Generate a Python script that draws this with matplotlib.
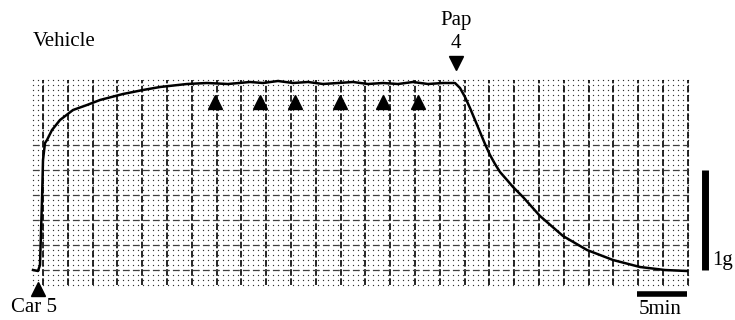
import matplotlib.pyplot as plt
import numpy as np

plt.rcParams['font.family'] = ['Liberation Serif', 'DejaVu Serif']

# trace: time (min) and tension (g)
time_min = [0.0, 0.5, 0.7, 0.9, 1.0, 1.2, 1.4, 1.9, 2.7, 4.0, 5.4, 6.7, 9.0, 11.0,
            12.7, 15.4, 17.4, 19.5, 21.7, 23.0, 24.5, 26.0, 27.5, 29.0, 30.5, 32.0,
            33.5, 35.0, 36.5, 38.0, 39.5, 41.0, 42.2, 42.7, 43.2, 43.7, 44.2, 44.7,
            45.2, 45.7, 46.2, 46.7, 47.4, 48.0, 49.0, 50.7, 53.0, 55.4, 58.0, 60.7,
            63.2, 65.4]
tension_g = [0.0, -0.01, 0.05, 0.70, 1.10, 1.27, 1.30, 1.40, 1.50, 1.60, 1.65, 1.70,
             1.76, 1.80, 1.83, 1.86, 1.87, 1.86, 1.88, 1.87, 1.89, 1.87, 1.88, 1.86,
             1.87, 1.88, 1.86, 1.87, 1.86, 1.88, 1.86, 1.87, 1.87, 1.82, 1.73, 1.62,
             1.50, 1.38, 1.26, 1.15, 1.06, 0.98, 0.90, 0.83, 0.73, 0.54, 0.34, 0.20,
             0.10, 0.03, 0.0, -0.01]

# drug additions (min)
car_time = 0.5
pap_time = 42.3
vehicle_times = [18.2, 22.7, 26.2, 30.7, 35.0, 38.5]

fig = plt.figure(figsize=(7.35, 3.2), dpi=100)
ax = fig.add_axes([0, 0, 1, 1])
ax.set_xlim(-3.3, 70.2)
ax.set_ylim(-0.5, 2.7)
ax.axis('off')

# chart paper
x0, x1 = 0.0, 65.5
y0, y1 = -0.15, 1.9
xs = np.arange(x0, x1 + 0.01, 0.5)
ys = np.arange(y0, y1 + 0.001, 0.05)
gx, gy = np.meshgrid(xs, ys)
ax.scatter(gx.ravel(), gy.ravel(), s=0.9, color='0.2', linewidths=0, zorder=1)
for xv in np.arange(1.0, x1, 2.48):
    ax.plot([xv, xv], [y0, y1], color='black', lw=1.2, ls=(0, (4, 1.5)), zorder=2)
for yv in np.arange(0.0, 1.3, 0.25):
    ax.plot([x0, x1], [yv, yv], color='0.25', lw=0.9, ls=(0, (5, 3)), zorder=2)

# trace
ax.plot(time_min, tension_g, color='black', lw=1.8, zorder=3)

# markers
ax.plot(car_time, -0.19, marker='^', color='black', ms=10, zorder=4)
ax.plot(pap_time, 2.07, marker='v', color='black', ms=10, zorder=4)
ax.plot(vehicle_times, [1.68] * len(vehicle_times), ls='none', marker='^',
        color='black', ms=10, zorder=4)

# scale bars
ax.plot([67.2, 67.2], [0.0, 1.0], color='black', lw=5, solid_capstyle='butt')
ax.plot([60.4, 65.4], [-0.235, -0.235], color='black', lw=4, solid_capstyle='butt')

fs = 15
ax.text(0.0, 2.28, 'Vehicle', fontsize=fs, ha='left', va='center')
ax.text(pap_time, 2.5, 'Pap', fontsize=fs, ha='center', va='center')
ax.text(pap_time, 2.27, '4', fontsize=fs, ha='center', va='center')
ax.text(0.1, -0.37, 'Car 5', fontsize=fs, ha='center', va='center')
ax.text(69.0, 0.09, '1g', fontsize=fs, ha='center', va='center')
ax.text(62.7, -0.40, '5min', fontsize=fs, ha='center', va='center')

fig.savefig('out.png', dpi=100)
